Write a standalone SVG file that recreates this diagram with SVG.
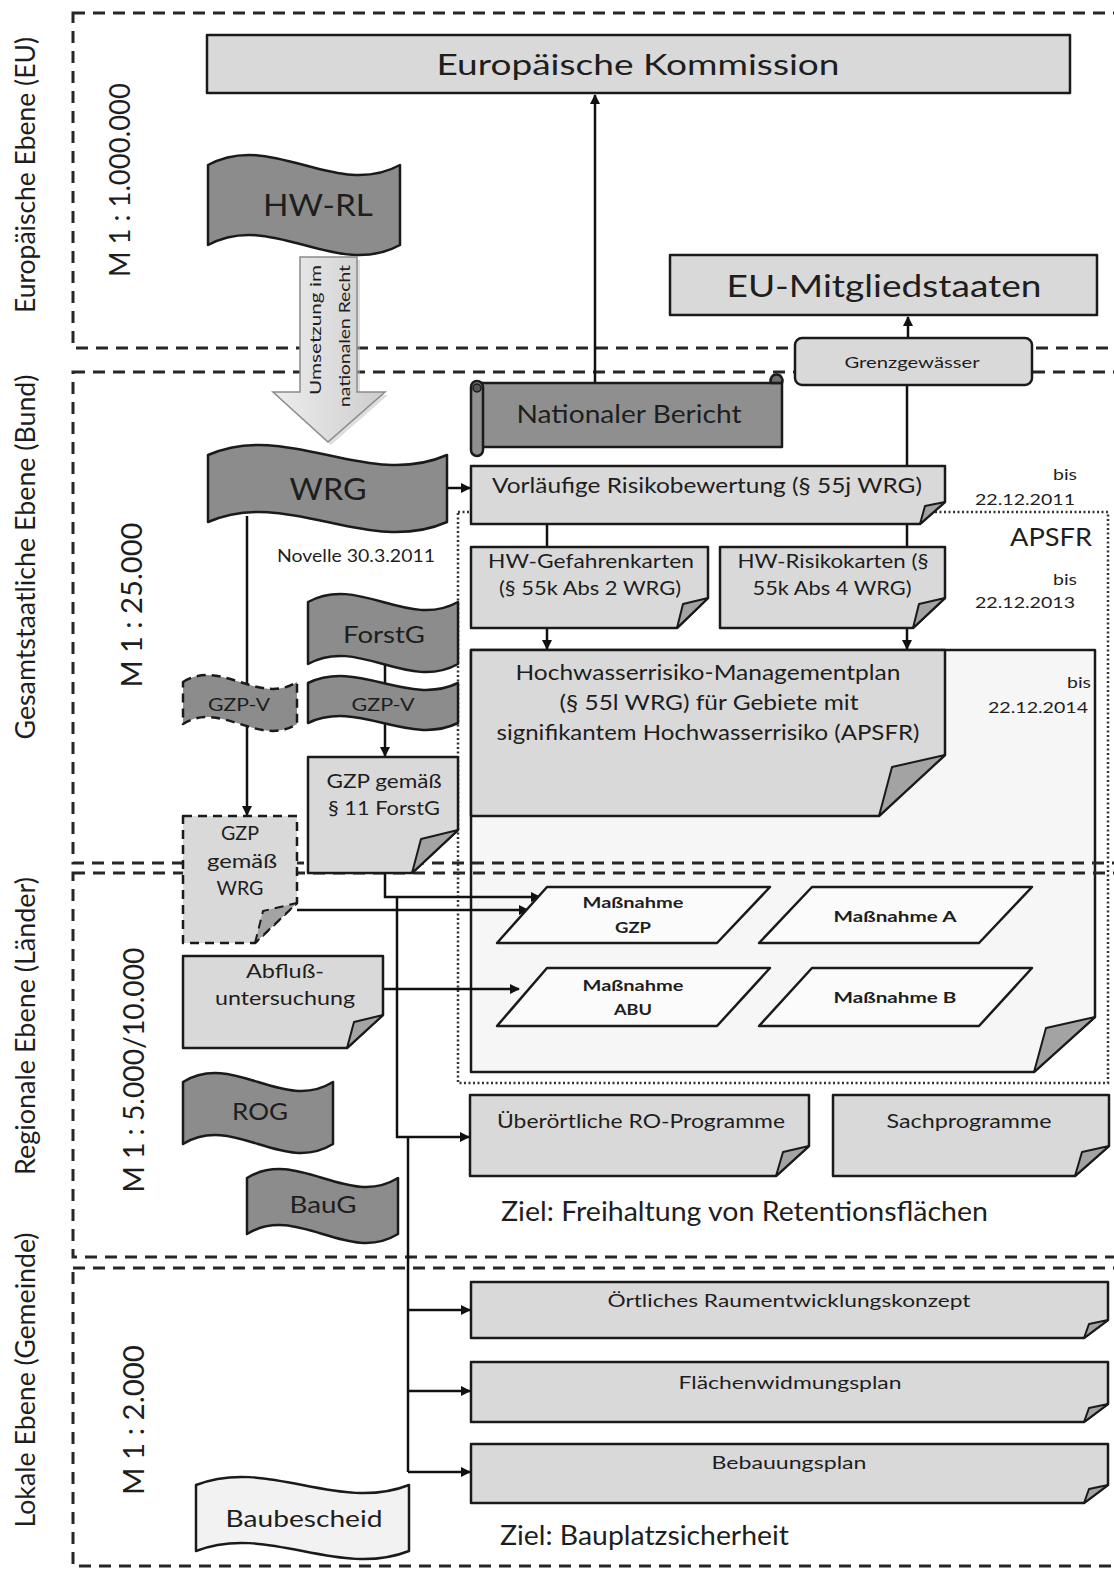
<svg xmlns="http://www.w3.org/2000/svg" width="1114" height="1569" viewBox="0 0 1114 1569">
<defs>
<style>
text{font-family:Lato,"Liberation Sans",sans-serif;fill:#1e1e1e}
.c{text-anchor:middle}
.b{stroke:#1a1a1a;stroke-width:2.5;stroke-linejoin:round}
.lt{fill:#d9d9d9}
.dk{fill:#8c8c8c}
.fl{fill:#a3a3a3;stroke:#1a1a1a;stroke-width:2;stroke-linejoin:round}
.zone{fill:none;stroke:#262626;stroke-width:3;stroke-dasharray:12 8}
.con{fill:none;stroke:#111;stroke-width:2.5}
.ar{marker-end:url(#ah)}
.dsh{stroke-dasharray:9 6}
.mn{font-weight:bold;font-size:16px}
.s19{font-size:19px}
.s16{font-size:16px}
</style>
<marker id="ah" viewBox="0 0 10 10" refX="9" refY="5" markerWidth="4" markerHeight="4" orient="auto"><path d="M0,0L10,5L0,10z" fill="#111"/></marker>
<linearGradient id="ug" x1="0" x2="1" y1="0" y2="0"><stop offset="0" stop-color="#ededed"/><stop offset="1" stop-color="#cdcdcd"/></linearGradient>
</defs>
<rect width="1114" height="1569" fill="#fff"/>

<g id="hwrm-outer">
<path class="b" fill="#f6f6f6" d="M471,650H1095V1017L1034,1072H471Z"/>
<path class="fl" fill="#e2e2e2" d="M1034,1072L1046,1028L1095,1017Z"/>
</g>

<g id="zones">
<g id="zone-eu">
<rect class="zone" x="73" y="13" width="1060" height="335"/>
<text transform="rotate(-90 35 175)" x="35" y="175" class="c" font-size="26" textLength="276" lengthAdjust="spacingAndGlyphs">Europäische Ebene (EU)</text>
<text transform="rotate(-90 130 180)" x="130" y="180" class="c" font-size="29" textLength="194" lengthAdjust="spacingAndGlyphs">M 1 : 1.000.000</text>
</g>
<g id="zone-bund">
<rect class="zone" x="73" y="372" width="1060" height="491"/>
<text transform="rotate(-90 35 557)" x="35" y="557" class="c" font-size="26" textLength="365" lengthAdjust="spacingAndGlyphs">Gesamtstaatliche Ebene (Bund)</text>
<text transform="rotate(-90 142 605)" x="142" y="605" class="c" font-size="29" textLength="165" lengthAdjust="spacingAndGlyphs">M 1 : 25.000</text>
</g>
<g id="zone-laender">
<rect class="zone" x="73" y="873" width="1060" height="384"/>
<text transform="rotate(-90 35 1026)" x="35" y="1026" class="c" font-size="26" textLength="298" lengthAdjust="spacingAndGlyphs">Regionale Ebene (Länder)</text>
<text transform="rotate(-90 144 1070)" x="144" y="1070" class="c" font-size="29" textLength="245" lengthAdjust="spacingAndGlyphs">M 1 : 5.000/10.000</text>
</g>
<g id="zone-gemeinde">
<rect class="zone" x="73" y="1268" width="1060" height="298"/>
<text transform="rotate(-90 35 1380)" x="35" y="1380" class="c" font-size="26" textLength="295" lengthAdjust="spacingAndGlyphs">Lokale Ebene (Gemeinde)</text>
<text transform="rotate(-90 144 1420)" x="144" y="1420" class="c" font-size="29" textLength="150" lengthAdjust="spacingAndGlyphs">M 1 : 2.000</text>
</g>
</g>

<g id="apsfr">
<rect x="458" y="512" width="650" height="571" fill="none" stroke="#333" stroke-width="2.5" stroke-dasharray="2 2.5"/>
<text x="1051" y="546" class="c" font-size="25" textLength="82" lengthAdjust="spacingAndGlyphs">APSFR</text>
</g>

<g id="connectors">
<path class="con ar" d="M595,383V95"/>
<path class="con ar" d="M908,338V317"/>
<path class="con" d="M907,385V466"/>
<path class="con ar" d="M447,488H470"/>
<path class="con" d="M547,524V547"/>
<path class="con" d="M907,524V547"/>
<path class="con ar" d="M547,628V649"/>
<path class="con ar" d="M907,628V649"/>
<path class="con ar" d="M247,516V815"/>
<path class="con" d="M385,664V684"/>
<path class="con ar" d="M385,724V756"/>
<path class="con ar" d="M385,873V897H540"/>
<path class="con ar" d="M397,897V1137H469"/>
<path class="con" d="M408,1137V1472"/>
<path class="con ar" d="M408,1310H470"/>
<path class="con ar" d="M408,1391H470"/>
<path class="con ar" d="M408,1472H470"/>
<path class="con ar" d="M297,910H528"/>
<path class="con ar" d="M383,989H519"/>
</g>

<g id="kommission">
<rect class="b lt" x="207" y="35" width="863" height="58"/>
<text x="638" y="75" class="c" font-size="28" textLength="403" lengthAdjust="spacingAndGlyphs">Europäische Kommission</text>
</g>

<g id="hw-rl">
<path class="b dk" d="M208,165C272,130 336,200 400,165V245C336,280 272,210 208,245Z"/>
<text x="318" y="216" class="c" font-size="31" textLength="110" lengthAdjust="spacingAndGlyphs">HW-RL</text>
</g>

<g id="umsetzung">
<polygon points="303,260 360,260 360,395 388,395 331,445 276,395 303,395" fill="#bdbdbd" opacity="0.5"/>
<polygon points="300,257 357,257 357,392 385,392 328,442 273,392 300,392" fill="url(#ug)" stroke="#8a8a8a" stroke-width="1.5"/>
<text transform="rotate(-90 321 330)" x="321" y="330" class="c" font-size="15" textLength="130" lengthAdjust="spacingAndGlyphs">Umsetzung im</text>
<text transform="rotate(-90 350 336)" x="350" y="336" class="c" font-size="15" textLength="142" lengthAdjust="spacingAndGlyphs">nationalen Recht</text>
</g>

<g id="eu-mitgliedstaaten">
<rect class="b lt" x="670" y="255" width="427" height="60"/>
<text x="884" y="297" class="c" font-size="30" textLength="315" lengthAdjust="spacingAndGlyphs">EU-Mitgliedstaaten</text>
</g>

<g id="grenzgewaesser">
<rect class="b lt" x="795" y="338" width="237" height="47" rx="7"/>
<text x="912" y="368" class="c" font-size="15" textLength="135" lengthAdjust="spacingAndGlyphs">Grenzgewässer</text>
</g>

<g id="nationaler-bericht">
<rect class="b" fill="#8f8f8f" x="478" y="383" width="304" height="64"/>
<path class="b" fill="#6f6f6f" d="M771,383a6,6 0 1 1 11,0Z"/>
<rect class="b" fill="#8f8f8f" x="471" y="381" width="12" height="75" rx="6"/>
<circle cx="477" cy="388" r="4" fill="#555" stroke="#1a1a1a" stroke-width="1.5"/>
<text x="629" y="423" class="c" font-size="25" textLength="225" lengthAdjust="spacingAndGlyphs">Nationaler Bericht</text>
</g>

<g id="wrg">
<path class="b dk" d="M208,455C288,420 367,490 447,455V522C367,557 288,487 208,522Z"/>
<text x="328" y="500" class="c" font-size="31" textLength="77" lengthAdjust="spacingAndGlyphs">WRG</text>
<text x="356" y="562" class="c" font-size="17" textLength="158" lengthAdjust="spacingAndGlyphs">Novelle 30.3.2011</text>
</g>

<g id="vorlaeufige">
<path class="b lt" d="M471,466H945V502L920,524H471Z"/>
<path class="fl" d="M920,524L925,506L945,502Z"/>
<text x="707" y="493" class="c" font-size="22" textLength="430" lengthAdjust="spacingAndGlyphs">Vorläufige Risikobewertung (§ 55j WRG)</text>
</g>

<g id="fristen">
<text x="1065" y="480" class="c s16" textLength="24" lengthAdjust="spacingAndGlyphs">bis</text>
<text x="1025" y="505" class="c s16" textLength="100" lengthAdjust="spacingAndGlyphs">22.12.2011</text>
<text x="1065" y="585" class="c s16" textLength="24" lengthAdjust="spacingAndGlyphs">bis</text>
<text x="1025" y="608" class="c s16" textLength="100" lengthAdjust="spacingAndGlyphs">22.12.2013</text>
<text x="1079" y="688" class="c s16" textLength="24" lengthAdjust="spacingAndGlyphs">bis</text>
<text x="1038" y="713" class="c s16" textLength="100" lengthAdjust="spacingAndGlyphs">22.12.2014</text>
</g>

<g id="hw-gefahrenkarten">
<path class="b lt" d="M471,547H708V598L677,628H471Z"/>
<path class="fl" d="M677,628L683,604L708,598Z"/>
<text x="591" y="568" class="c s19" textLength="206" lengthAdjust="spacingAndGlyphs">HW-Gefahrenkarten</text>
<text x="590" y="595" class="c s19" textLength="182" lengthAdjust="spacingAndGlyphs">(§ 55k Abs 2 WRG)</text>
</g>

<g id="hw-risikokarten">
<path class="b lt" d="M720,547H945V598L913,628H720Z"/>
<path class="fl" d="M913,628L919,604L945,598Z"/>
<text x="833" y="568" class="c s19" textLength="191" lengthAdjust="spacingAndGlyphs">HW-Risikokarten (§</text>
<text x="832" y="595" class="c s19" textLength="159" lengthAdjust="spacingAndGlyphs">55k Abs 4 WRG)</text>
</g>

<g id="hwrm-plan">
<path class="b lt" d="M471,650H945V755L879,816H471Z"/>
<path class="fl" d="M879,816L892,767L945,755Z"/>
<text x="708" y="680" class="c" font-size="21" textLength="385" lengthAdjust="spacingAndGlyphs">Hochwasserrisiko-Managementplan</text>
<text x="709" y="710" class="c" font-size="21" textLength="299" lengthAdjust="spacingAndGlyphs">(§ 55l WRG) für Gebiete mit</text>
<text x="708" y="740" class="c" font-size="21" textLength="423" lengthAdjust="spacingAndGlyphs">signifikantem Hochwasserrisiko (APSFR)</text>
</g>

<g id="massnahme-gzp">
<path class="b" fill="#fbfbfb" d="M547,887H770L717,943H497Z"/>
<text x="633" y="908" class="c mn" textLength="101" lengthAdjust="spacingAndGlyphs">Maßnahme</text>
<text x="633" y="933" class="c mn" textLength="36" lengthAdjust="spacingAndGlyphs">GZP</text>
</g>
<g id="massnahme-a">
<path class="b" fill="#fbfbfb" d="M812,887H1032L979,943H759Z"/>
<text x="895" y="922" class="c mn" textLength="123" lengthAdjust="spacingAndGlyphs">Maßnahme A</text>
</g>
<g id="massnahme-abu">
<path class="b" fill="#fbfbfb" d="M547,968H770L717,1026H497Z"/>
<text x="633" y="991" class="c mn" textLength="101" lengthAdjust="spacingAndGlyphs">Maßnahme</text>
<text x="633" y="1015" class="c mn" textLength="38" lengthAdjust="spacingAndGlyphs">ABU</text>
</g>
<g id="massnahme-b">
<path class="b" fill="#fbfbfb" d="M812,968H1032L979,1026H759Z"/>
<text x="895" y="1003" class="c mn" textLength="123" lengthAdjust="spacingAndGlyphs">Maßnahme B</text>
</g>

<g id="forstg">
<path class="b dk" d="M308,602C358,574 408,630 458,602V664C408,692 358,636 308,664Z"/>
<text x="384" y="643" class="c" font-size="23" textLength="82" lengthAdjust="spacingAndGlyphs">ForstG</text>
</g>

<g id="gzp-v-forstg">
<path class="b dk" d="M308,683C358,659 408,707 458,683V723C408,747 358,699 308,723Z"/>
<text x="383" y="711" class="c" font-size="18" textLength="63" lengthAdjust="spacingAndGlyphs">GZP-V</text>
</g>

<g id="gzp-v-wrg">
<path class="b dk dsh" d="M183,682C221,658 259,706 297,682V724C259,748 221,700 183,724Z"/>
<text x="239" y="711" class="c" font-size="18" textLength="62" lengthAdjust="spacingAndGlyphs">GZP-V</text>
</g>

<g id="gzp-forstg">
<path class="b lt" d="M308,757H458V830L412,873H308Z"/>
<path class="fl" d="M412,873L421,839L458,830Z"/>
<text x="384" y="788" class="c s19" textLength="115" lengthAdjust="spacingAndGlyphs">GZP gemäß</text>
<text x="384" y="815" class="c s19" textLength="112" lengthAdjust="spacingAndGlyphs">§ 11 ForstG</text>
</g>

<g id="gzp-wrg">
<path class="b lt dsh" d="M183,816H297V903L255,943H183Z"/>
<path class="fl dsh" d="M255,943L263,911L297,903Z"/>
<text x="240" y="840" class="c s19" textLength="38" lengthAdjust="spacingAndGlyphs">GZP</text>
<text x="242" y="868" class="c s19" textLength="70" lengthAdjust="spacingAndGlyphs">gemäß</text>
<text x="240" y="895" class="c s19" textLength="47" lengthAdjust="spacingAndGlyphs">WRG</text>
</g>

<g id="abfluss">
<path class="b lt" d="M183,956H383V1015L347,1048H183Z"/>
<path class="fl" d="M347,1048L354,1022L383,1015Z"/>
<text x="285" y="978" class="c s19" textLength="78" lengthAdjust="spacingAndGlyphs">Abfluß-</text>
<text x="285" y="1005" class="c s19" textLength="140" lengthAdjust="spacingAndGlyphs">untersuchung</text>
</g>

<g id="rog">
<path class="b dk" d="M183,1082C233,1051 283,1113 333,1082V1144C283,1175 233,1113 183,1144Z"/>
<text x="260" y="1120" class="c" font-size="24" textLength="56" lengthAdjust="spacingAndGlyphs">ROG</text>
</g>

<g id="baug">
<path class="b dk" d="M247,1178C297,1147 348,1209 398,1178V1234C348,1265 297,1203 247,1234Z"/>
<text x="323" y="1213" class="c" font-size="24" textLength="67" lengthAdjust="spacingAndGlyphs">BauG</text>
</g>

<g id="ueberoertliche">
<path class="b lt" d="M470,1095H809V1146L776,1176H470Z"/>
<path class="fl" d="M776,1176L783,1152L809,1146Z"/>
<text x="641" y="1128" class="c s19" textLength="288" lengthAdjust="spacingAndGlyphs">Überörtliche RO-Programme</text>
</g>

<g id="sachprogramme">
<path class="b lt" d="M833,1095H1109V1146L1075,1176H833Z"/>
<path class="fl" d="M1075,1176L1082,1152L1109,1146Z"/>
<text x="969" y="1128" class="c s19" textLength="165" lengthAdjust="spacingAndGlyphs">Sachprogramme</text>
</g>

<g id="ziel-retention">
<text x="501" y="1221" font-size="26" textLength="487" lengthAdjust="spacingAndGlyphs">Ziel: Freihaltung von Retentionsflächen</text>
</g>

<g id="oertliches-rek">
<path class="b lt" d="M471,1282H1108V1320L1084,1338H471Z"/>
<path class="fl" d="M1084,1338L1089,1324L1108,1320Z"/>
<text x="789" y="1307" class="c" font-size="18" textLength="363" lengthAdjust="spacingAndGlyphs">Örtliches Raumentwicklungskonzept</text>
</g>

<g id="flaechenwidmungsplan">
<path class="b lt" d="M471,1362H1108V1404L1084,1422H471Z"/>
<path class="fl" d="M1084,1422L1089,1408L1108,1404Z"/>
<text x="790" y="1389" class="c" font-size="18" textLength="223" lengthAdjust="spacingAndGlyphs">Flächenwidmungsplan</text>
</g>

<g id="bebauungsplan">
<path class="b lt" d="M471,1444H1108V1485L1084,1503H471Z"/>
<path class="fl" d="M1084,1503L1089,1489L1108,1485Z"/>
<text x="789" y="1469" class="c" font-size="18" textLength="155" lengthAdjust="spacingAndGlyphs">Bebauungsplan</text>
</g>

<g id="baubescheid">
<path class="b" fill="#f2f2f2" d="M196,1485C267,1457 338,1513 409,1485V1551C338,1579 267,1523 196,1551Z"/>
<text x="304" y="1527" class="c" font-size="23" textLength="157" lengthAdjust="spacingAndGlyphs">Baubescheid</text>
</g>

<g id="ziel-bauplatz">
<text x="500" y="1545" font-size="26" textLength="289" lengthAdjust="spacingAndGlyphs">Ziel: Bauplatzsicherheit</text>
</g>
</svg>
